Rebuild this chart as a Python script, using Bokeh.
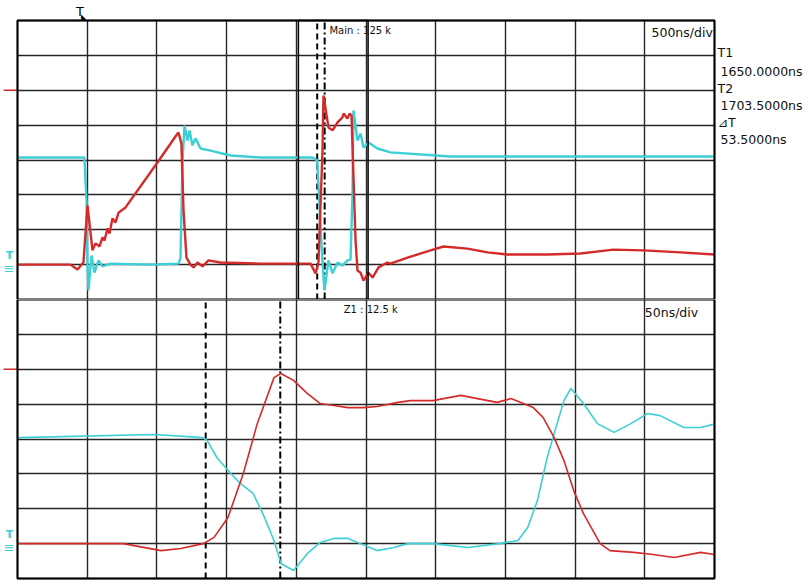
from bokeh.plotting import figure
from bokeh.models import FixedTicker, BoxAnnotation, Label
from bokeh.layouts import column
from bokeh.embed import file_html
from bokeh.resources import INLINE

# ---------------- data ----------------
# Main (upper) window: 500 ns/div, trigger at t=0, y in divisions (0..8)
main_t0, main_tdiv = -500.0, 500.0
zoom_t0, zoom_tdiv = 1515.0, 50.0
t1_ns, t2_ns = 1650.0, 1703.5

main_cyan_t = [-500, -20, -5, 2, 9, 31, 52, 81, 110, 167, 454, 655, 669, 684, 698, 720, 734, 755,
               777, 813, 885, 1028, 1243, 1616, 1650, 1686, 1702, 1731, 1760, 1796, 1831, 1867,
               1889, 1903, 1910, 1939, 1961, 1982, 2018, 2082, 2176, 2606, 4500]
main_cyan_v = [4.07, 4.07, 2.84, 1.0, 0.26, 1.26, 0.77, 1.12, 0.95, 1.03, 1.0, 1.03, 1.18, 3.99,
               4.99, 4.56, 4.85, 4.42, 4.62, 4.33, 4.27, 4.13, 4.07, 4.07, 3.99, 1.20, 0.26, 1.12,
               0.75, 1.06, 0.97, 1.12, 1.15, 3.0, 5.42, 4.56, 4.76, 4.36, 4.50, 4.33, 4.22, 4.10, 4.10]

main_red_t = [-500, -120, -70, -27, 2, 38, 60, 88, 110, 124, 146, 160, 181, 203, 225, 275, 504,
              648, 655, 676, 691, 712, 741, 763, 791, 827, 870, 956, 1243, 1602, 1638, 1659, 1688,
              1695, 1731, 1760, 1796, 1831, 1839, 1867, 1882, 1896, 1925, 1939, 1961, 1982, 2018,
              2047, 2090, 2154, 2176, 2298, 2463, 2556, 2728, 2872, 3015, 3302, 3539, 3775, 3991,
              4256, 4500]
main_red_v = [1.0, 1.0, 0.86, 1.06, 2.70, 1.41, 1.61, 1.52, 1.78, 1.69, 2.04, 1.89, 2.32, 2.21,
              2.49, 2.64, 3.93, 4.76, 4.79, 4.47, 2.55, 1.20, 1.0, 0.92, 1.06, 0.95, 1.12, 1.06,
              1.03, 1.03, 0.75, 1.06, 4.27, 5.85, 4.93, 4.85, 5.08, 5.22, 5.33, 5.19, 5.33, 5.28,
              1.69, 0.83, 0.77, 0.54, 0.77, 0.63, 0.92, 1.06, 1.03, 1.20, 1.41, 1.52, 1.46, 1.35,
              1.29, 1.29, 1.32, 1.43, 1.41, 1.35, 1.29]

# Zoom (lower) window: 50 ns/div
zoom_red_t = [1515, 1591, 1618, 1632, 1648.4, 1656, 1666, 1677, 1687, 1699, 1704, 1713, 1723, 1732,
              1742, 1752, 1763, 1773, 1788, 1797, 1813, 1833, 1859, 1869, 1885, 1892, 1900, 1907,
              1914, 1921, 1933, 1940, 1957, 1971, 1986, 2005, 2015]
zoom_red_v = [1.00, 1.00, 0.80, 0.86, 1.00, 1.18, 1.75, 3.01, 4.44, 5.76, 5.88, 5.68, 5.30, 5.02,
              4.96, 4.90, 4.90, 4.93, 5.05, 5.10, 5.10, 5.25, 5.05, 5.16, 4.90, 4.62, 4.04, 3.38,
              2.52, 1.86, 1.00, 0.80, 0.75, 0.69, 0.60, 0.75, 0.69]

zoom_cyan_t = [1515, 1613, 1648, 1651, 1658, 1668, 1675, 1684, 1691, 1699, 1704, 1713, 1723, 1732,
               1742, 1752, 1761, 1773, 1785, 1795, 1813, 1838, 1861, 1874, 1881, 1888, 1895, 1900,
               1907, 1912, 1921, 1931, 1943, 1955, 1967, 1976, 1993, 2005, 2014]
zoom_cyan_v = [4.04, 4.13, 4.04, 3.96, 3.47, 3.01, 2.72, 2.44, 1.86, 1.09, 0.43, 0.23, 0.72, 1.03,
               1.15, 1.15, 1.00, 0.80, 0.89, 1.00, 1.00, 0.89, 1.00, 1.09, 1.46, 2.24, 3.47, 4.16,
               5.10, 5.45, 5.02, 4.44, 4.19, 4.44, 4.73, 4.67, 4.33, 4.33, 4.42]

red_marker_level = 6.0
ground_level = 1.0
n_xdiv, n_ydiv = 10, 8

RED = "#d42a2a"
CYAN = "#3cd0d6"
GRIDC = "#262626"
FONT = "DejaVu Sans"

PX_PER_XDIV = 69.7
PX_PER_YDIV = 34.875
LEFT_PX, RIGHT_PX = 17, 95


def make_panel(t0, tdiv, height, top_px, bottom_px):
    x_lo = t0 - LEFT_PX / PX_PER_XDIV * tdiv
    x_hi = t0 + n_xdiv * tdiv + RIGHT_PX / PX_PER_XDIV * tdiv
    y_lo = -bottom_px / PX_PER_YDIV
    y_hi = n_ydiv + top_px / PX_PER_YDIV
    p = figure(width=809, height=height, output_backend="svg", toolbar_location=None,
               x_range=(x_lo, x_hi), y_range=(y_lo, y_hi),
               x_axis_location=None, y_axis_location=None,
               min_border=0, min_border_left=0, min_border_right=0, min_border_top=0,
               min_border_bottom=0, background_fill_color="white",
               border_fill_color="white", outline_line_color=None)
    t_end = t0 + n_xdiv * tdiv
    p.xgrid.ticker = FixedTicker(ticks=[t0 + k * tdiv for k in range(n_xdiv + 1)])
    p.ygrid.ticker = FixedTicker(ticks=list(range(n_ydiv + 1)))
    p.xgrid.cross_bounds = (0, n_ydiv)
    p.ygrid.cross_bounds = (t0, t_end)
    p.grid.grid_line_color = GRIDC
    p.grid.grid_line_width = 1.4
    p.grid.grid_line_alpha = 1.0
    # panel border
    p.add_layout(BoxAnnotation(left=t0, right=t_end, bottom=0, top=n_ydiv, fill_alpha=0,
                               line_color="black", line_alpha=1.0, line_width=2))
    # cursors T1 / T2
    p.segment(x0=[t1_ns], y0=[0], x1=[t1_ns], y1=[n_ydiv], line_color="black",
              line_width=2, line_dash="6 4")
    p.segment(x0=[t2_ns], y0=[0], x1=[t2_ns], y1=[n_ydiv], line_color="black",
              line_width=2, line_dash="7 3 2 3")
    # left channel markers
    p.segment(x0=[t0 - 0.2 * tdiv], y0=[red_marker_level], x1=[t0], y1=[red_marker_level],
              line_color=RED, line_width=1.3)
    p.add_layout(Label(x=t0 - 0.17 * tdiv, y=ground_level + 0.27, text="T", text_color=CYAN,
                       text_font_size="11px", text_baseline="middle", text_align="left",
                       text_font=FONT, text_font_style="bold"))
    p.add_layout(Label(x=t0 - 0.2 * tdiv, y=ground_level - 0.11, text="≡", text_color=CYAN,
                       text_font_size="13px", text_baseline="middle", text_align="left",
                       text_font=FONT))
    return p


def lab(p, x, y, text, size="12.5px"):
    p.add_layout(Label(x=x, y=y, text=text, text_color="#111111", text_font_size=size,
                       text_baseline="middle", text_align="left", text_font=FONT))


# ---------------- upper (main) ----------------
p1 = make_panel(main_t0, main_tdiv, 299, 20, 0)
p1.add_layout(BoxAnnotation(left=zoom_t0, right=zoom_t0 + n_xdiv * zoom_tdiv, bottom=0,
                            top=n_ydiv, fill_alpha=0, line_color="black", line_alpha=1.0,
                            line_width=1.5))
p1.line(main_cyan_t, main_cyan_v, line_color=CYAN, line_width=2.4)
p1.line(main_red_t, main_red_v, line_color=RED, line_width=2.4)

lab(p1, 4048, 7.66, "500ns/div")
lab(p1, 1738, 7.71, "Main : 125 k", "10px")
lab(p1, 4522, 7.08, "T1")
lab(p1, 4543, 6.54, "1650.0000ns")
lab(p1, 4522, 6.05, "T2")
lab(p1, 4543, 5.56, "1703.5000ns")
lab(p1, 4522, 5.08, "⊿T")
lab(p1, 4543, 4.59, "53.5000ns")
p1.add_layout(Label(x=-80, y=8.27, text="T", text_color="black", text_font_size="13px",
                    text_baseline="middle", text_align="left", text_font=FONT))
p1.add_layout(Label(x=-5, y=8.1, text="◣", text_color="black", text_font_size="7px",
                    text_baseline="middle", text_align="right", text_font=FONT))

# ---------------- lower (zoom) ----------------
p2 = make_panel(zoom_t0, zoom_tdiv, 289, 0, 10)
p2.line(zoom_cyan_t, zoom_cyan_v, line_color=CYAN, line_width=1.6)
p2.line(zoom_red_t, zoom_red_v, line_color=RED, line_width=1.6)
lab(p2, 1965, 7.63, "50ns/div")
lab(p2, 1749, 7.71, "Z1 : 12.5 k", "10px")

layout = column(p1, p2, spacing=0)
open("out.html", "w").write(file_html(layout, INLINE))
